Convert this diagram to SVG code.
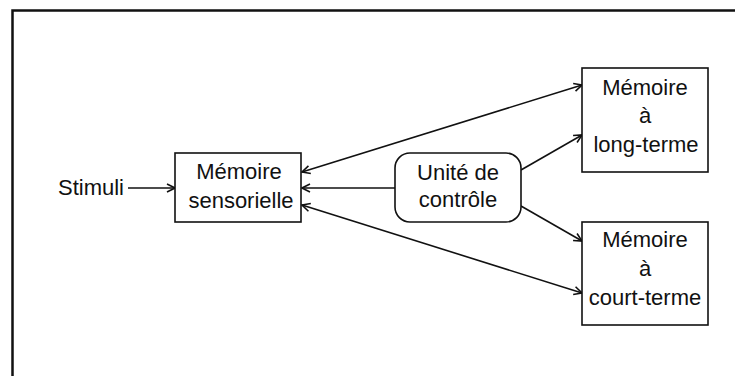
<svg xmlns="http://www.w3.org/2000/svg" width="735" height="376" viewBox="0 0 735 376">
<style>
  .box { fill: #ffffff; stroke: #111; stroke-width: 1.6; }
  .lbl { font-family: "Liberation Sans", Arial, sans-serif; font-size: 22px; fill: #111; text-anchor: middle; }
  .con { stroke: #111; stroke-width: 1.6; fill: none; }
  .frame { stroke: #111; stroke-width: 2.5; fill: none; }
</style>
<defs>
  <marker id="ah" markerWidth="10" markerHeight="10" refX="9" refY="5" orient="auto-start-reverse" markerUnits="userSpaceOnUse">
    <path d="M1,1 L9,5 L1,9" fill="none" stroke="#111" stroke-width="1.6"/>
  </marker>
</defs>
<rect x="0" y="0" width="735" height="376" fill="#ffffff"/>
<path class="frame" d="M12.5,376 L12.5,10.5 L735,10.5"/>

<g id="connectors">
  <line class="con" x1="128" y1="188" x2="175" y2="188" marker-end="url(#ah)"/>
  <line class="con" x1="395" y1="188" x2="302" y2="188" marker-end="url(#ah)"/>
  <line class="con" x1="302" y1="172" x2="582" y2="85" marker-start="url(#ah)" marker-end="url(#ah)"/>
  <line class="con" x1="302" y1="205" x2="582" y2="293" marker-start="url(#ah)" marker-end="url(#ah)"/>
  <line class="con" x1="521" y1="170" x2="582" y2="135" marker-end="url(#ah)"/>
  <line class="con" x1="521" y1="206" x2="582" y2="241" marker-end="url(#ah)"/>
</g>

<g id="stimuli">
  <text class="lbl" x="91" y="195">Stimuli</text>
</g>

<g id="memoire-sensorielle">
  <rect class="box" x="175" y="153" width="126" height="69"/>
  <text class="lbl" x="239" y="179">Mémoire</text>
  <text class="lbl" x="241" y="208">sensorielle</text>
</g>

<g id="unite-de-controle">
  <rect class="box" x="395" y="153" width="126" height="69" rx="15" ry="15"/>
  <text class="lbl" x="458" y="180">Unité de</text>
  <text class="lbl" x="458" y="207">contrôle</text>
</g>

<g id="memoire-long-terme">
  <rect class="box" x="582" y="68" width="126" height="104"/>
  <text class="lbl" x="645" y="95">Mémoire</text>
  <text class="lbl" x="645" y="123">à</text>
  <text class="lbl" x="646" y="152">long-terme</text>
</g>

<g id="memoire-court-terme">
  <rect class="box" x="582" y="222" width="126" height="103"/>
  <text class="lbl" x="645" y="247">Mémoire</text>
  <text class="lbl" x="645" y="276">à</text>
  <text class="lbl" x="645" y="305">court-terme</text>
</g>
</svg>
